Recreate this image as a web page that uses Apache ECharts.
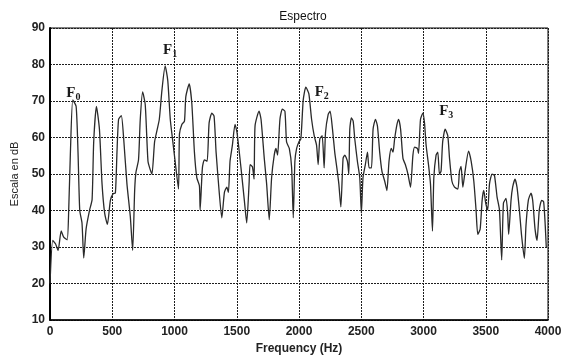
<!DOCTYPE html>
<html>
<head>
<meta charset="utf-8">
<script src="https://cdn.jsdelivr.net/npm/echarts@6/dist/echarts.min.js"></script>
<style>
  html, body { margin: 0; padding: 0; background: #fff; }
  #chart { width: 566px; height: 360px; }
</style>
</head>
<body>
<div id="chart"></div>
<script>
// spectrum samples (Hz, dB)
const freqs = [
  0, 22, 44, 65, 90, 110, 138, 151, 164, 183, 210, 225, 239, 257, 271, 290, 317, 338, 351, 373,
  397, 418, 439, 461, 485, 506, 525, 538, 551, 573, 592, 618, 645, 664, 680, 690, 711, 725, 744, 765,
  787, 805, 819, 840, 859, 878, 899, 925, 946, 966, 984, 1005, 1032, 1040, 1059, 1080, 1091, 1118, 1139, 1160,
  1179, 1200, 1206, 1224, 1240, 1262, 1278, 1300, 1318, 1334, 1358, 1380, 1401, 1420, 1433, 1446, 1465, 1486, 1502, 1534,
  1561, 1580, 1599, 1607, 1626, 1639, 1647, 1679, 1695, 1721, 1740, 1761, 1780, 1801, 1815, 1828, 1847, 1866, 1887, 1900,
  1922, 1941, 1954, 1967, 1981, 1999, 2015, 2034, 2055, 2079, 2101, 2122, 2141, 2154, 2167, 2186, 2202, 2213, 2234, 2250,
  2269, 2287, 2304, 2320, 2336, 2354, 2368, 2389, 2400, 2408, 2421, 2435, 2448, 2469, 2488, 2501, 2514, 2533, 2550, 2563,
  2582, 2595, 2614, 2630, 2648, 2666, 2688, 2706, 2723, 2741, 2755, 2768, 2787, 2800, 2816, 2835, 2854, 2875, 2896, 2915,
  2929, 2951, 2960, 2976, 2995, 3008, 3021, 3040, 3056, 3072, 3083, 3101, 3115, 3128, 3141, 3154, 3174, 3195, 3209, 3228,
  3249, 3276, 3289, 3302, 3316, 3334, 3362, 3383, 3404, 3422, 3436, 3455, 3471, 3484, 3500, 3516, 3530, 3551, 3570, 3591,
  3610, 3628, 3642, 3663, 3676, 3684, 3703, 3716, 3735, 3751, 3770, 3788, 3810, 3823, 3842, 3863, 3877, 3896, 3912, 3930,
  3949, 3965, 3978, 3986
];
const levels = [
  20, 31.8, 30.9, 29.1, 34.4, 32.7, 32, 41, 56, 70.3, 68.5, 56, 40, 36.6, 27, 35, 40, 43, 58.8, 68.5,
  62.3, 47.3, 39.3, 36.2, 42.8, 44.6, 44.8, 56, 65, 66, 59.6, 47.3, 38.4, 29.1, 45.5, 50.4, 53.9, 65, 72.5, 69,
  53.5, 51.2, 50, 58.8, 61.9, 65, 72.9, 79.6, 75.6, 65, 59.6, 53.5, 45.9, 61, 63.6, 64.5, 71.2, 74.7, 69.4, 56,
  49, 46.8, 40.2, 51.7, 53.9, 53.5, 64, 66.7, 65.8, 56, 45.5, 38, 45, 46.4, 45, 53.5, 57.9, 63.6, 61.4, 51.7,
  42.8, 36.6, 47.3, 52.6, 52, 48.6, 63.2, 67.2, 65, 54.3, 47.3, 37.5, 49, 55.2, 57, 55.2, 65, 67.8, 67.2, 58.8,
  57, 51.7, 38, 53.5, 57, 58.8, 59.6, 70.3, 73.8, 72, 65, 60.5, 57.9, 52.6, 59.6, 60.5, 51.7, 61.4, 66.3, 67.2,
  62.3, 56, 51.7, 47.3, 41, 54.3, 55.2, 53.5, 50, 62.3, 65.4, 64.5, 59.6, 53.5, 49, 39.3, 49, 52.6, 56, 51.7,
  51.7, 62.3, 65, 63.2, 56, 50.8, 48.1, 45.5, 53.5, 57, 56, 59.6, 63.6, 65, 62.3, 54.3, 52.6, 50, 46.4, 55.2,
  57.4, 57, 55.7, 65, 66.7, 64, 57.9, 52.6, 47.3, 34.4, 49, 55.2, 56, 50, 50.8, 58.8, 62.3, 60.5, 54.3, 48.1,
  46.4, 45.9, 50.8, 52.1, 46.4, 50.8, 56.3, 53.5, 48.1, 40.2, 33.5, 34.9, 42.8, 45.5, 42, 40.2, 47.3, 50, 49.6, 43.7,
  40.2, 26.5, 42, 43.3, 39.3, 33.5, 42.8, 46.4, 48.6, 46.4, 40.2, 33.1, 26.9, 35.8, 42.8, 44.8, 42.8, 34.9, 31.8, 40.2,
  42.8, 42.4, 35.8, 30
];

// formant labels and where they sit (Hz, dB)
const formantNames = ["0", "1", "2", "3"];
const formantAt = [[188, 72.1], [965, 83.9], [2183, 72.4], [3183, 67.1]];

const chart = echarts.init(document.getElementById("chart"));
const font = "Liberation Sans, Arial, sans-serif";
const gridLine = { show: true, lineStyle: { color: "#1e1e1e", type: [2, 1], width: 1 } };

chart.setOption({
  animation: false,
  title: {
    text: "Espectro",
    left: 298,
    textAlign: "center",
    top: 6,
    textStyle: { fontFamily: font, fontSize: 12, fontWeight: "normal", color: "#111" }
  },
  grid: {
    left: 50, right: 18, top: 28, bottom: 32,
    show: true, borderColor: "#000", borderWidth: 1
  },
  xAxis: {
    type: "value",
    min: 0, max: 4000, interval: 500,
    name: "Frequency (Hz)",
    nameLocation: "middle",
    nameGap: 20,
    nameTextStyle: { fontFamily: font, fontSize: 12, fontWeight: "bold", color: "#222" },
    axisLine: { lineStyle: { color: "#000", width: 1.5 } },
    axisTick: { show: false },
    axisLabel: {
      fontFamily: font, fontSize: 12, fontWeight: "bold", color: "#222", margin: 6,
      formatter: (v) => String(v)
    },
    splitLine: gridLine
  },
  yAxis: {
    type: "value",
    min: 10, max: 90, interval: 10,
    name: "Escala en dB",
    nameLocation: "middle",
    nameGap: 28,
    nameTextStyle: { fontFamily: font, fontSize: 11, color: "#222" },
    axisLine: { show: true, lineStyle: { color: "#000", width: 2 } },
    axisTick: { show: false },
    axisLabel: { fontFamily: font, fontSize: 12, fontWeight: "bold", color: "#222", margin: 5 },
    splitLine: gridLine
  },
  series: [
    {
      type: "line",
      data: freqs.map((f, i) => [f, levels[i]]),
      showSymbol: false,
      smooth: 0.2,
      lineStyle: { color: "#2a2a2a", width: 1.3 },
      markPoint: {
        symbol: "circle",
        symbolSize: 0,
        data: formantAt.map((c, i) => ({ coord: c, value: formantNames[i] })),
        label: {
          show: true,
          position: "inside",
          formatter: (p) => "{f|F}{s|" + p.value + "}",
          rich: {
            f: { fontFamily: "Liberation Serif, serif", fontSize: 15, fontWeight: "bold", color: "#1a1a1a", lineHeight: 18 },
            s: { fontFamily: "Liberation Serif, serif", fontSize: 10, fontWeight: "bold", color: "#1a1a1a", lineHeight: 18, verticalAlign: "bottom", padding: [6, 0, 0, 0] }
          }
        }
      }
    }
  ]
});
</script>
</body>
</html>
